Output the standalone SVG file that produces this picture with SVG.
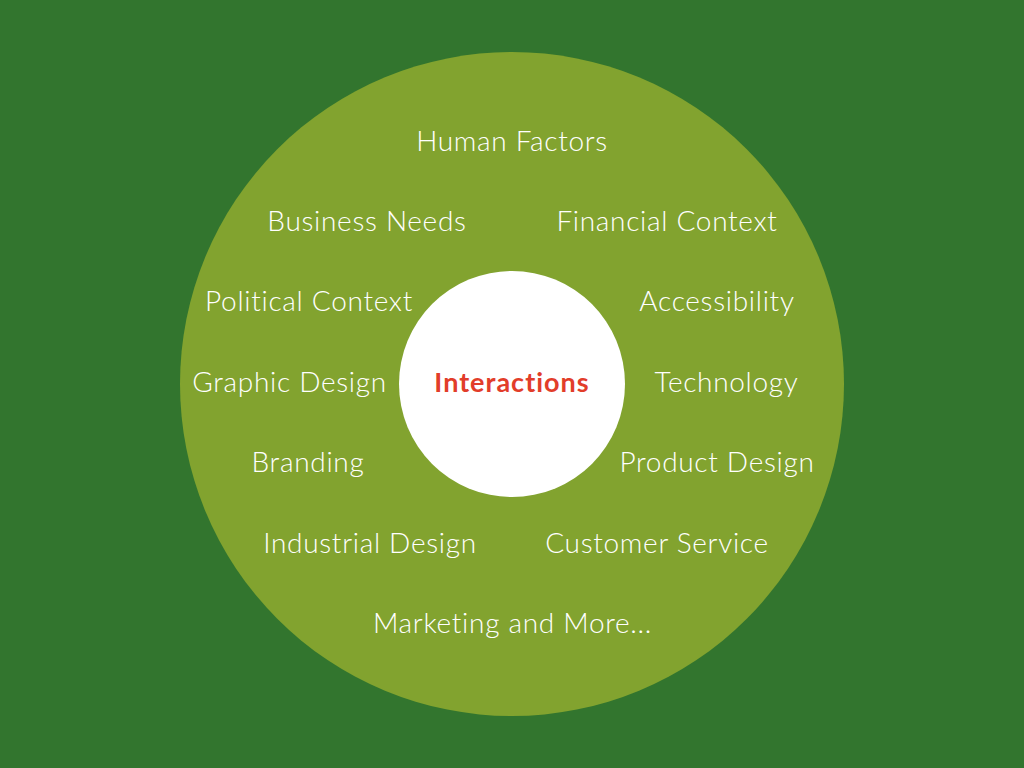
<svg xmlns="http://www.w3.org/2000/svg" width="1024" height="768" viewBox="0 0 1024 768">
<style>
.t{font-family:Lato,"Open Sans","Liberation Sans",sans-serif;font-weight:300;font-size:28px;letter-spacing:0.7px;fill:#ffffff;text-anchor:middle}
.c{font-family:Lato,"Open Sans","Liberation Sans",sans-serif;font-weight:700;font-size:27px;letter-spacing:1px;fill:#E23D2A;text-anchor:middle;font-variant-ligatures:none}
</style>
<rect width="1024" height="768" fill="#32752E"/>
<g id="outer"><circle cx="512" cy="384" r="332" fill="#82A32F"/></g>
<g id="connectors"></g>
<g id="center"><circle cx="512" cy="384" r="113" fill="#ffffff"/><text class="c" x="512" y="392">Interactions</text></g>
<g id="n1"><text class="t" x="512" y="151">Human Factors</text></g>
<g id="n2"><text class="t" x="367" y="231">Business Needs</text></g>
<g id="n3"><text class="t" x="667" y="231">Financial Context</text></g>
<g id="n4"><text class="t" x="309" y="311">Political Context</text></g>
<g id="n5"><text class="t" x="717" y="311">Accessibility</text></g>
<g id="n6"><text class="t" x="289.5" y="392">Graphic Design</text></g>
<g id="n7"><text class="t" x="726.5" y="392">Technology</text></g>
<g id="n8"><text class="t" x="308" y="472">Branding</text></g>
<g id="n9"><text class="t" x="717" y="472">Product Design</text></g>
<g id="n10"><text class="t" x="370" y="553">Industrial Design</text></g>
<g id="n11"><text class="t" x="657" y="553">Customer Service</text></g>
<g id="n12"><text class="t" x="512.5" y="633">Marketing and More...</text></g>
</svg>
